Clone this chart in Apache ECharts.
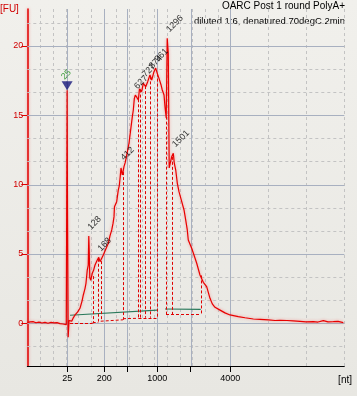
<!DOCTYPE html>
<html><head><meta charset="utf-8">
<script src="https://cdn.jsdelivr.net/npm/echarts@6/dist/echarts.min.js"></script>
<style>html,body{margin:0;padding:0;background:#ecebe6;}#c{width:357px;height:396px;}</style>
</head><body><div id="c"></div>
<script>
// migration time [s] and fluorescence [FU] of the electropherogram trace
const traceTime = [18.29,18.65,19.04,19.43,19.83,20.22,20.62,21.01,21.41,21.80,22.20,22.59,22.99,23.25,23.42,23.53,23.58,23.67,23.78,23.91,24.13,24.30,24.57,24.90,25.22,25.49,25.66,25.88,26.01,26.18,26.31,26.38,26.44,26.51,26.64,26.84,27.00,27.20,27.50,27.69,27.86,27.99,28.29,28.58,28.95,29.17,29.40,29.57,29.70,29.76,30.05,30.26,30.39,30.52,30.62,30.71,30.79,30.88,31.01,31.18,31.37,31.67,31.89,32.11,32.24,32.37,32.50,32.69,32.90,33.05,33.34,33.55,33.87,34.13,34.43,34.66,34.96,35.18,35.39,35.62,35.88,36.05,36.28,36.41,36.57,36.70,36.84,36.96,37.07,37.29,37.50,37.63,37.82,38.03,38.25,38.61,38.91,39.13,39.34,39.47,39.92,40.22,40.58,41.01,41.24,41.45,41.89,42.33,42.63,42.99,43.65,44.30,44.96,46.05,46.94,48.03,48.91,50.00,50.88,51.54,52.46,53.29,54.17,54.96,55.92,56.54,57.24,57.86,58.55,59.17,59.87];
const traceFU = [0.05,0.10,0.12,0.04,0.08,0.02,0.07,0.00,0.06,0.03,0.05,-0.02,-0.05,-0.10,-0.10,16.8,8.0,-1.0,0.2,0.3,0.15,0.35,0.6,0.8,1.08,1.6,2.04,2.5,2.88,3.84,4.2,6.3,5.2,3.3,3.1,3.6,3.8,4.2,4.56,4.75,4.44,4.5,4.92,5.3,5.77,6.3,6.73,7.2,7.69,8.4,8.77,9.6,9.9,10.6,11.2,11.3,10.7,10.9,11.29,11.6,12.13,12.98,13.94,14.9,15.38,16.2,16.45,16.3,16.1,16.9,16.7,17.3,17.06,17.42,17.9,17.54,18.14,18.4,18.02,17.66,17.2,16.82,16.46,15.6,14.8,20.55,19.47,11.2,11.3,12.01,12.26,11.54,11.05,10.09,9.49,8.77,8.17,7.45,6.73,6.0,5.41,4.92,4.33,3.48,3.36,2.95,2.64,1.8,1.4,1.15,0.95,0.75,0.6,0.48,0.4,0.31,0.28,0.24,0.2,0.22,0.2,0.17,0.14,0.1,0.12,0.09,0.19,0.1,0.12,0.14,0.05];

// ladder sizes [nt] and their migration times [s]
const ladderNt = [25, 200, 500, 1000, 2000, 4000];
const ladderTime = [23.55, 28.42, 31.45, 35.40, 39.79, 45.00];
const labeledNt = [25, 200, 1000, 4000];

// y ticks
const yTickValues = [0, 5, 10, 15, 20];
const yMinorValues = [-5/3, 5/3, 10/3, 20/3, 25/3, 35/3, 40/3, 50/3, 55/3, 65/3];
// dashed vertical grid [s]
const xGridTimes = [20, 21.667, 23.333, 25, 26.667, 28.333, 30, 31.667, 33.333, 35, 36.667, 38.333, 40, 41.667, 43.333, 45, 50, 55, 60];

// peak labels
const peakNames = ['128', '168', '412', '627', '727', '874', '961', '1296', '1501'];
const peakTime = [26.38, 27.69, 30.71, 32.50, 33.55, 34.43, 35.18, 36.70, 37.50];
const peakFU = [6.3, 4.75, 11.3, 16.45, 17.3, 17.9, 18.4, 20.55, 12.26];

// marker peak
const markerName = ['25'];
const markerTime = [23.53];
const markerFU = [16.8];

// peak boundaries (dashed): time, trace value, base value
const boundTime = [26.89, 27.63, 27.95, 30.88, 32.92, 33.18, 33.84, 34.50, 35.41, 36.54, 37.29, 41.10];
const boundTop = [3.4, 4.65, 4.48, 10.9, 16.15, 16.85, 17.1, 17.8, 18.0, 14.9, 12.0, 3.45];
const boundBase = [0.0, 0.12, 0.15, 0.25, 0.36, 0.4, 0.4, 0.4, 0.4, 0.65, 0.65, 0.65];
// dashed base segments under peaks
const baseStart = [23.91, 26.89, 27.95, 30.88, 32.92, 36.54];
const baseEnd = [26.89, 27.63, 30.88, 32.92, 35.41, 41.10];
const baseStartFU = [0.0, 0.12, 0.15, 0.33, 0.4, 0.65];
const baseEndFU = [0.0, 0.12, 0.25, 0.36, 0.4, 0.65];

// green baseline segments
const greenStart = [23.91, 36.41];
const greenEnd = [35.39, 41.11];
const greenStartFU = [0.58, 1.03];
const greenEndFU = [0.95, 1.0];

const X_MIN = 18.29, X_MAX = 60, Y_MIN = -3.08, Y_MAX = 22.66;
const FONT = 'Liberation Sans, Arial, sans-serif';

const trace = traceTime.map((t, i) => [t, traceFU[i]]);

const gridDashed = [], gridSolid = [], outline = [], green = [];
yMinorValues.forEach(v => gridDashed.push([X_MIN, v, X_MAX, v]));
xGridTimes.forEach(t => gridDashed.push([t, Y_MIN, t, Y_MAX]));
yTickValues.forEach(v => gridSolid.push([X_MIN, v, X_MAX, v]));
ladderTime.forEach(t => gridSolid.push([t, Y_MIN, t, Y_MAX]));
boundTime.forEach((t, i) => outline.push([t, boundTop[i], t, boundBase[i]]));
baseStart.forEach((t, i) => outline.push([t, baseStartFU[i], baseEnd[i], baseEndFU[i]]));
greenStart.forEach((t, i) => green.push([t, greenStartFU[i], greenEnd[i], greenEndFU[i]]));

// segments through the chart's own scales; dashes drawn as short solid pieces
function segSeries(data, stroke, width, dash, z, crisp) {
  return {
    type: 'custom', coordinateSystem: 'cartesian2d', silent: true, z: z, clip: false,
    encode: {x: [0, 2], y: [1, 3]}, data: data,
    renderItem: function (params, api) {
      const a = api.coord([api.value(0), api.value(1)]);
      const b = api.coord([api.value(2), api.value(3)]);
      if (crisp) {
        if (Math.abs(a[0] - b[0]) < 0.01) { a[0] = b[0] = Math.round(a[0]) + 0.5; }
        if (Math.abs(a[1] - b[1]) < 0.01) { a[1] = b[1] = Math.round(a[1]) + 0.5; }
      }
      const style = {stroke: stroke, lineWidth: width, fill: null};
      if (!dash) {
        return {type: 'line', shape: {x1: a[0], y1: a[1], x2: b[0], y2: b[1]}, style: style};
      }
      const dx = b[0] - a[0], dy = b[1] - a[1];
      const len = Math.sqrt(dx * dx + dy * dy);
      const ux = dx / len, uy = dy / len;
      const children = [];
      for (let s = 0; s < len; s += dash[0] + dash[1]) {
        const e = Math.min(s + dash[0], len);
        children.push({type: 'line', shape: {x1: a[0] + ux * s, y1: a[1] + uy * s, x2: a[0] + ux * e, y2: a[1] + uy * e},
          style: {stroke: stroke, lineWidth: width, fill: null}});
      }
      return {type: 'group', children: children};
    }
  };
}

function ntFor(t) {
  let best = 0;
  ladderTime.forEach((lt, i) => { if (Math.abs(lt - t) < Math.abs(ladderTime[best] - t)) best = i; });
  return String(ladderNt[best]);
}

const chart = echarts.init(document.getElementById('c'), null, {renderer: 'canvas'});
chart.setOption({
  animation: false,
  backgroundColor: {type: 'linear', x: 0, y: 0, x2: 0, y2: 1, colorStops: [{offset: 0, color: '#f1f0ec'}, {offset: 1, color: '#e8e7e2'}]},
  grid: {left: 27.3, right: 12.7, top: 9, bottom: 30},
  xAxis: {
    type: 'value', min: X_MIN, max: X_MAX,
    axisLine: {onZero: false, lineStyle: {color: '#000', width: 1}},
    axisTick: {show: true, length: 6, lineStyle: {color: '#000'}, customValues: ladderTime},
    axisLabel: {customValues: labeledNt.map(n => ladderTime[ladderNt.indexOf(n)]), formatter: v => ntFor(v),
      color: '#000', fontSize: 9, fontFamily: FONT, margin: 8},
    splitLine: {show: false}
  },
  yAxis: {
    type: 'value', min: Y_MIN, max: Y_MAX,
    axisLine: {show: true, lineStyle: {color: '#e00000', width: 1.5, shadowBlur: 3, shadowColor: 'rgba(255,0,0,0.4)'}},
    axisTick: {show: true, length: 6, lineStyle: {color: '#e00000'}, customValues: yTickValues},
    axisLabel: {customValues: yTickValues, color: '#d00000', fontSize: 9, fontFamily: FONT, margin: 4},
    splitLine: {show: false}
  },
  graphic: [
    {type: 'text', x: 0, y: 9, style: {text: '[FU]', fill: '#d00000', font: '10px ' + FONT, textAlign: 'left', textVerticalAlign: 'middle', align: 'left', verticalAlign: 'middle'}},
    {type: 'text', x: 352, y: 380, style: {text: '[nt]', fill: '#000', font: '10px ' + FONT, textAlign: 'right', textVerticalAlign: 'middle', align: 'right', verticalAlign: 'middle'}},
    {type: 'text', x: 345, y: 6, style: {text: 'OARC Post 1 round PolyA+', fill: '#000', font: '10px ' + FONT, textAlign: 'right', textVerticalAlign: 'middle', align: 'right', verticalAlign: 'middle'}},
    {type: 'text', x: 345, y: 21, style: {text: 'diluted 1:6, denatured 70degC 2min', fill: '#000', font: '9.5px ' + FONT, textAlign: 'right', textVerticalAlign: 'middle', align: 'right', verticalAlign: 'middle'}}
  ],
  series: [
    segSeries(gridDashed, '#c3c3c3', 1, [3, 3], 1, true),
    segSeries(gridSolid, '#a8b0c0', 1, null, 2, true),
    segSeries(green, '#2b7a5c', 1.2, null, 3, false),
    segSeries(outline, '#e00000', 1, [3, 2], 4, true),
    {type: 'line', data: trace, z: 5, showSymbol: false, symbol: 'none', silent: true,
      lineStyle: {color: '#e80000', width: 1.2, shadowBlur: 3, shadowColor: 'rgba(255,40,40,0.45)'}},
    {type: 'scatter', z: 6, silent: true, symbolSize: 1, itemStyle: {color: 'rgba(0,0,0,0)'},
      data: peakTime.map((t, i) => [t, peakFU[i], peakNames[i]]),
      label: {show: true, formatter: p => p.data[2], rotate: 45, position: [1, -7], align: 'left', verticalAlign: 'middle',
        color: '#000', fontSize: 9, fontFamily: FONT}},
    {type: 'scatter', z: 7, silent: true, symbol: 'triangle', symbolRotate: 180, symbolSize: [11, 9], symbolOffset: [0, -4.5],
      itemStyle: {color: '#16167a'},
      data: markerTime.map((t, i) => [t, markerFU[i], markerName[i]]),
      label: {show: true, formatter: p => p.data[2], rotate: 45, position: [1, -3], align: 'left', verticalAlign: 'middle',
        color: '#1a8c1a', fontSize: 9, fontFamily: FONT}}
  ]
});
</script></body></html>
